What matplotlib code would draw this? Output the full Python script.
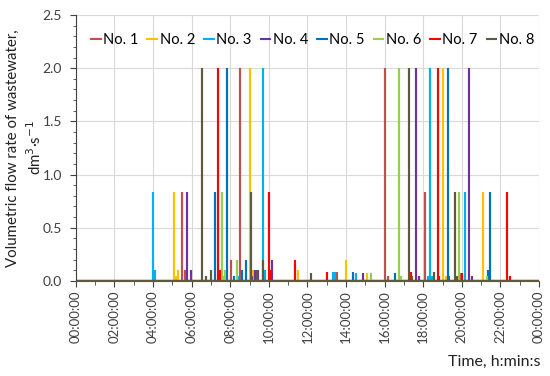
import matplotlib
matplotlib.use('Agg')
import matplotlib.pyplot as plt
from matplotlib.ticker import MultipleLocator, FuncFormatter

plt.rcParams['font.family'] = ['Lato', 'DejaVu Sans']

# event times (HH:MM) and flow rates (dm3/s) per sampling point
no1_t = ["05:31", "05:39", "08:01", "08:30", "13:31", "16:01", "16:09", "18:05", "19:57"]
no1_v = [0.84, 0.10, 0.20, 2.00, 0.08, 2.00, 0.05, 0.84, 0.07]

no2_t = ["05:05", "05:12", "05:16", "09:01", "09:12", "11:32", "14:01", "15:04", "19:01", "19:12", "21:05"]
no2_v = [0.84, 0.05, 0.10, 2.00, 0.10, 0.10, 0.20, 0.07, 2.00, 0.05, 0.84]

no3_t = ["04:00", "04:07", "08:25", "09:41", "09:49", "13:20", "13:25", "14:32", "18:16", "18:20", "18:27", "20:10"]
no3_v = [0.84, 0.10, 0.05, 2.00, 0.10, 0.08, 0.08, 0.07, 0.05, 2.00, 0.05, 0.84]

no4_t = ["05:46", "05:58", "09:17", "09:27", "10:11", "14:53", "17:36", "17:46", "20:21", "20:31"]
no4_v = [0.84, 0.10, 0.10, 0.10, 0.20, 0.07, 2.00, 0.05, 2.00, 0.05]

no5_t = ["07:11", "07:49", "08:11", "08:37", "08:50", "14:22", "16:32", "19:16", "19:21", "21:20", "21:28"]
no5_v = [0.84, 2.00, 0.05, 0.10, 0.20, 0.08, 0.07, 2.00, 0.05, 0.10, 0.84]

no6_t = ["07:35", "07:40", "07:45", "08:20", "15:17", "16:45", "16:50", "19:50", "21:17"]
no6_v = [0.84, 0.05, 0.10, 0.20, 0.07, 2.00, 0.05, 0.84, 0.05]

no7_t = ["07:21", "07:25", "07:29", "10:00", "10:05", "11:22", "13:02", "17:21", "18:46", "18:49", "20:01", "22:19", "22:29"]
no7_v = [2.00, 0.05, 0.10, 0.84, 0.10, 0.20, 0.08, 0.08, 2.00, 0.05, 0.07, 0.84, 0.05]

no8_t = ["06:31", "06:46", "06:59", "09:04", "09:09", "09:23", "09:42", "12:12", "17:16", "17:25", "18:35", "19:38", "19:45"]
no8_v = [2.00, 0.05, 0.10, 0.84, 0.05, 0.10, 0.20, 0.07, 2.00, 0.05, 0.08, 0.84, 0.05]

labels = ["No. 1", "No. 2", "No. 3", "No. 4", "No. 5", "No. 6", "No. 7", "No. 8"]
colors = ["#C0504D", "#FFC000", "#00B0F0", "#7030A0", "#0070C0", "#92D050", "#FF0000", "#5E5A3E"]
series = [(no1_t, no1_v), (no2_t, no2_v), (no3_t, no3_v), (no4_t, no4_v),
          (no5_t, no5_v), (no6_t, no6_v), (no7_t, no7_v), (no8_t, no8_v)]


def to_hours(s):
    h, m = s.split(":")
    return int(h) + int(m) / 60.0


fig = plt.figure(figsize=(5.5, 3.76), dpi=100)
ax = fig.add_axes([0.138, 0.253, 0.842, 0.707])

for (ts, vs), lab, col in zip(series, labels, colors):
    xs, ys = [0.0], [0.0]
    for t, v in zip(ts, vs):
        h = to_hours(t)
        xs += [h, h, h]
        ys += [0.0, v, 0.0]
    xs.append(24.0)
    ys.append(0.0)
    ax.plot(xs, ys, color=col, lw=1.5, label=lab,
            solid_joinstyle='bevel', solid_capstyle='butt')

ax.set_xlim(0, 24)
ax.set_ylim(0, 2.5)
ax.xaxis.set_major_locator(MultipleLocator(2))
ax.xaxis.set_minor_locator(MultipleLocator(1))
ax.xaxis.set_major_formatter(FuncFormatter(lambda x, p: f"{int(round(x)) % 24:02d}:00:00"))
ax.yaxis.set_major_locator(MultipleLocator(0.5))
ax.yaxis.set_minor_locator(MultipleLocator(0.1))
ax.yaxis.set_major_formatter(FuncFormatter(lambda y, p: f"{y:.1f}"))

ax.grid(True, which='major', color='#D9D9D9', lw=0.8)
ax.set_axisbelow(True)
for s in ['top', 'right']:
    ax.spines[s].set_visible(False)
ax.spines['left'].set_color('#404040')
ax.spines['bottom'].set_color('#5E5A3E')

ax.tick_params(axis='x', which='major', labelsize=9.5, rotation=90, length=4, color='#404040', pad=3)
ax.tick_params(axis='x', which='minor', length=3, color='#404040')
ax.tick_params(axis='y', which='major', labelsize=10, length=4, color='#404040', pad=6)
ax.tick_params(axis='y', which='minor', length=2.5, color='#404040')
for lbl in ax.get_xticklabels() + ax.get_yticklabels():
    lbl.set_color('#404040')

ax.set_ylabel("Volumetric flow rate of wastewater,\ndm$^3$·s$^{-1}$", fontsize=10.8, color='#222222',
              linespacing=1.4)
ax.yaxis.set_label_coords(-0.068, 0.5)
fig.text(0.982, 0.037, "Time, h:min:s", ha='right', va='center', fontsize=11.5, color='#222222')

ax.legend(loc='upper center', bbox_to_anchor=(0.51, 0.965), ncol=8, frameon=False,
          fontsize=10.5, handlelength=0.8, handletextpad=0.1, columnspacing=0.55,
          borderaxespad=0.2)

fig.savefig('out.png', dpi=100)
